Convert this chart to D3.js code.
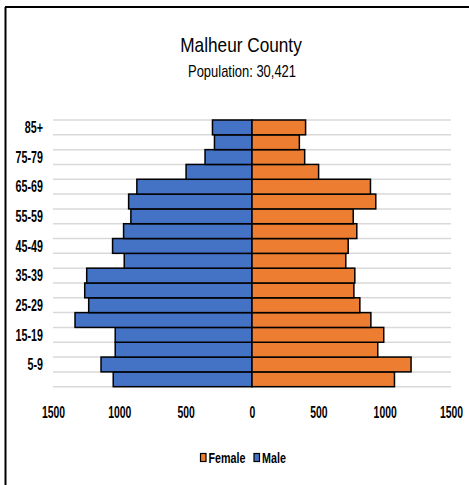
<!DOCTYPE html>
<html>
<head>
<meta charset="utf-8">
<script src="https://cdn.jsdelivr.net/npm/d3@7"></script>
<style>
  html, body { margin: 0; padding: 0; background: #fff; }
  svg { display: block; }
  text { font-family: "Liberation Sans", Arial, sans-serif; fill: #000; }
</style>
</head>
<body>
<svg id="chart" width="469" height="485"></svg>
<script>
// Age groups, bottom (youngest) to top (oldest)
const ageGroups = ["0-4","5-9","10-14","15-19","20-24","25-29","30-34","35-39","40-44",
                   "45-49","50-54","55-59","60-64","65-69","70-74","75-79","80-84","85+"];
const maleValues   = [1046,1138,1031,1031,1334,1231,1261,1246,963,1051,968,913,930,868,497,354,283,298];
const femaleValues = [1074,1199,948,993,896,813,768,775,707,725,790,763,933,893,502,397,357,404];
const shownAgeLabels = ["5-9","15-19","25-29","35-39","45-49","55-59","65-69","75-79","85+"];
const xTickValues = [-1500,-1000,-500,0,500,1000,1500];
const seriesNames = ["Female","Male"];
const seriesColors = ["#ED7D31","#4472C4"];
const titleText = "Malheur County";
const subtitleText = "Population: 30,421";

const svg = d3.select("#chart");
const W = 469, H = 485;

// frame lines (top and left)
svg.append("line").attr("x1",5).attr("x2",W).attr("y1",7).attr("y2",7)
  .attr("stroke","#000").attr("stroke-width",2);
svg.append("line").attr("x1",5.5).attr("x2",5.5).attr("y1",7).attr("y2",H)
  .attr("stroke","#000").attr("stroke-width",2);

// titles (condensed to mimic a narrow font)
svg.append("g").attr("transform","translate(241,52) scale(0.82,1)")
  .append("text").attr("text-anchor","middle").style("font-size","21px").text(titleText);
svg.append("g").attr("transform","translate(242,77) scale(0.81,1)")
  .append("text").attr("text-anchor","middle").style("font-size","16px").text(subtitleText);

const x = d3.scaleLinear().domain([-1500,1500]).range([53,451]);
const y = d3.scaleBand().domain(ageGroups.slice().reverse()).range([120,386.7]).padding(0);

// gridlines at band boundaries
const bounds = ageGroups.map(a => y(a)).concat([y.range()[1]]);
svg.append("g").selectAll("line").data(bounds).join("line")
  .attr("x1",x(-1500)).attr("x2",x(1500))
  .attr("y1",d=>d).attr("y2",d=>d)
  .attr("stroke","#d9d9d9").attr("stroke-width",1.5);

// bars
const rows = ageGroups.map((a,i)=>({age:a, male:maleValues[i], female:femaleValues[i]}));
const barG = svg.append("g");
barG.selectAll("rect.male").data(rows).join("rect").attr("class","male")
  .attr("x",d=>x(-d.male)).attr("width",d=>x(0)-x(-d.male))
  .attr("y",d=>y(d.age)).attr("height",y.bandwidth())
  .attr("fill",seriesColors[1]).attr("stroke","#000").attr("stroke-width",1.5);
barG.selectAll("rect.female").data(rows).join("rect").attr("class","female")
  .attr("x",x(0)).attr("width",d=>x(d.female)-x(0))
  .attr("y",d=>y(d.age)).attr("height",y.bandwidth())
  .attr("fill",seriesColors[0]).attr("stroke","#000").attr("stroke-width",1.5);

// y axis labels
const yAxis = d3.axisLeft(y).tickValues(shownAgeLabels).tickSize(0).tickPadding(0);
const yG = svg.append("g").attr("transform","translate(43,0.5)").call(yAxis);
yG.select(".domain").remove();
yG.selectAll("text").style("font-size","16.5px").style("font-weight","bold")
  .style("font-family",'"Liberation Sans",Arial,sans-serif')
  .attr("transform","scale(0.65,1)");

// x axis labels
const xAxis = d3.axisBottom(x).tickValues(xTickValues).tickSize(0).tickPadding(0)
  .tickFormat(d=>String(Math.abs(d)));
const xG = svg.append("g").attr("transform","translate(0,406)").call(xAxis);
xG.select(".domain").remove();
xG.selectAll("text").style("font-size","16.5px").style("font-weight","bold")
  .style("font-family",'"Liberation Sans",Arial,sans-serif')
  .attr("transform","scale(0.63,1)");

// legend
const legend = svg.append("g");
const legendItems = [{name:seriesNames[0],color:seriesColors[0],x:200.5},{name:seriesNames[1],color:seriesColors[1],x:254}];
legendItems.forEach(it=>{
  legend.append("rect").attr("x",it.x).attr("y",453.5).attr("width",5.5).attr("height",8)
    .attr("fill",it.color).attr("stroke","#000").attr("stroke-width",1.2);
  legend.append("g").attr("transform",`translate(${it.x+8},462.5) scale(0.74,1)`)
    .append("text").style("font-size","14.5px").style("font-weight","bold").text(it.name);
});
</script>
</body>
</html>
